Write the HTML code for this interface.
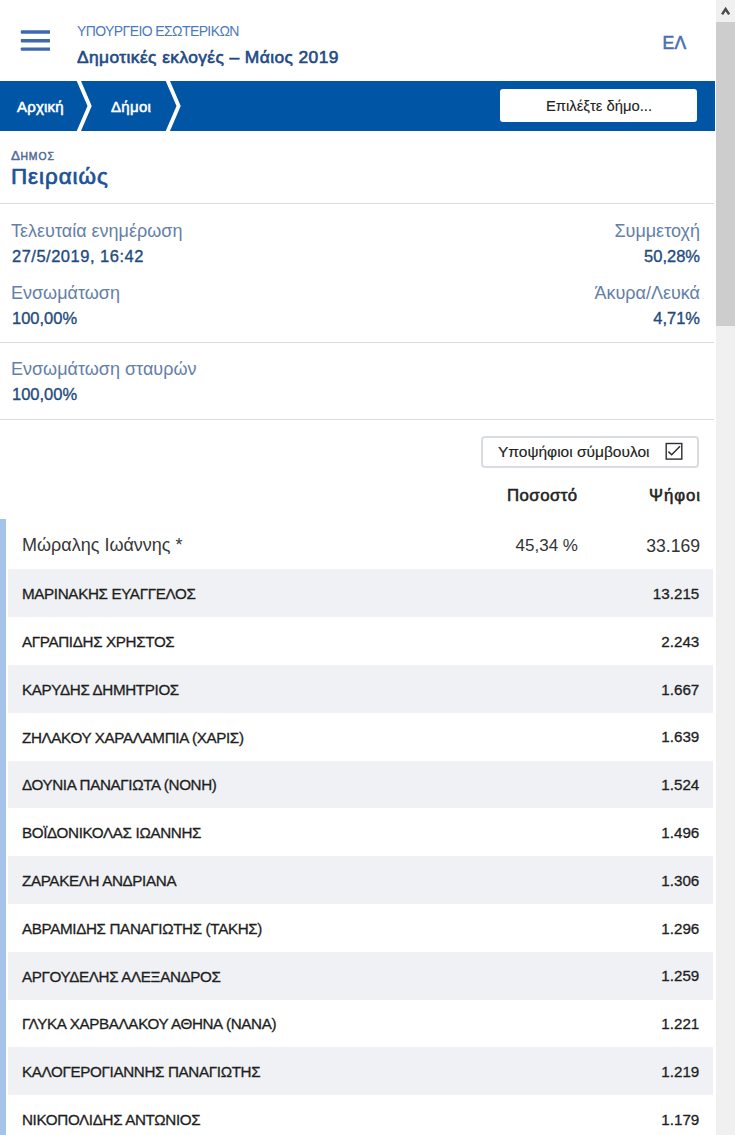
<!DOCTYPE html>
<html><head><meta charset="utf-8">
<style>
*{margin:0;padding:0;box-sizing:border-box}
html,body{width:735px;height:1135px;overflow:hidden;background:#fff}
body{font-family:"Liberation Sans",sans-serif;position:relative}
.a{position:absolute;white-space:nowrap}
#sb{position:absolute;left:716px;top:0;width:19px;height:1135px;background:#f0f0f0}
#sbup{position:absolute;left:0;top:0;width:19px;height:22px;background:#f0f0f0}
#thumb{position:absolute;left:0;top:22px;width:19px;height:304px;background:#cdcdcd}
.ham{position:absolute;left:21px;width:30px;height:3px;background:#4169ae}
#bc{position:absolute;left:0;top:81px;width:715px;height:50px;background:#0055a4}
.hr{position:absolute;left:0;width:714px;height:1px;background:#dcdcdc}
.lbl{color:#6480a8;font-size:18px}
.val{color:#1f4c7e;font-size:16.5px;-webkit-text-stroke:0.35px #1f4c7e}
.row{position:absolute;left:8px;width:705.3px;height:47.8px}
.g{background:#eff1f4}
.nm{position:absolute;left:14px;top:15.8px;font-size:15.2px;letter-spacing:-0.35px;color:#1e1e1e;white-space:nowrap;-webkit-text-stroke:0.3px #1e1e1e}
.vt{position:absolute;right:14px;top:15.5px;font-size:15.2px;color:#1e1e1e;white-space:nowrap;-webkit-text-stroke:0.3px #1e1e1e}
</style></head><body>
<div id="sb"><div id="sbup"><svg width="19" height="22" style="position:absolute;left:0;top:0"><path d="M6.1 14.4 L9.6 9.1 L13.1 14.4" fill="none" stroke="#4a4a4a" stroke-width="2.5"/></svg></div><div id="thumb"></div></div>

<svg width="40" height="40" style="position:absolute;left:10px;top:20px"><g fill="#3f68ad"><rect x="10.8" y="10.2" width="30.8" height="3.6" rx="0.8"/><rect x="10.8" y="19" width="30.8" height="3.4" rx="0.8"/><rect x="10.8" y="27.4" width="30.8" height="3.4" rx="0.8"/></g></svg>
<div class="a" style="left:77px;top:22.5px;font-size:14px;letter-spacing:-0.6px;color:#4a7abd">ΥΠΟΥΡΓΕΙΟ ΕΣΩΤΕΡΙΚΩΝ</div>
<div class="a" style="left:77px;top:47px;font-size:17.4px;color:#1f4a86;-webkit-text-stroke:0.6px #1f4a86;letter-spacing:0.4px">Δημοτικές εκλογές – Μάιος 2019</div>
<div class="a" style="left:662.5px;top:32.6px;font-size:17.6px;color:#4a6eb0;-webkit-text-stroke:0.55px #4a6eb0;letter-spacing:0.3px">ΕΛ</div>

<div id="bc">
<svg width="715" height="50" style="position:absolute;left:0;top:0">
<path d="M78 -2 L89.6 25 L78 52" fill="none" stroke="#fff" stroke-width="3.9"/>
<path d="M167 -2 L178.6 25 L167 52" fill="none" stroke="#fff" stroke-width="3.9"/>
</svg>
<div class="a" style="left:17px;top:16.5px;font-size:15px;color:#fff;-webkit-text-stroke:0.55px #fff;letter-spacing:0.2px">Αρχική</div>
<div class="a" style="left:111px;top:16.5px;font-size:15px;color:#fff;-webkit-text-stroke:0.55px #fff;letter-spacing:0.3px">Δήμοι</div>
<div style="position:absolute;left:500px;top:8px;width:197px;height:33px;background:#fff;border-radius:3px"></div>
<div class="a" style="left:546px;top:17px;font-size:14.8px;color:#222;-webkit-text-stroke:0.1px #222">Επιλέξτε δήμο...</div>
</div>

<div class="a" style="left:11px;top:148px;font-size:13.4px;color:#4f6a98;-webkit-text-stroke:0.45px #4f6a98;letter-spacing:0.5px">Δ<span style="font-size:10.4px;letter-spacing:0.9px">ΗΜΟΣ</span></div>
<div class="a" style="left:11px;top:164.3px;font-size:22.4px;letter-spacing:0.95px;color:#1c5296;-webkit-text-stroke:0.7px #1c5296">Πειραιώς</div>
<div class="hr" style="top:203px"></div>

<div class="a lbl" style="left:11px;top:221px">Τελευταία ενημέρωση</div>
<div class="a val" style="left:12px;top:247px;letter-spacing:0.5px">27/5/2019, 16:42</div>
<div class="a lbl" style="left:11px;top:283px">Ενσωμάτωση</div>
<div class="a val" style="left:12px;top:309px">100,00%</div>
<div class="a lbl" style="right:35px;top:221px">Συμμετοχή</div>
<div class="a val" style="right:35px;top:247px">50,28%</div>
<div class="a lbl" style="right:35px;top:283px">Άκυρα/Λευκά</div>
<div class="a val" style="right:35px;top:309px">4,71%</div>
<div class="hr" style="top:342px"></div>
<div class="a lbl" style="left:11px;top:359px">Ενσωμάτωση σταυρών</div>
<div class="a val" style="left:12px;top:385px">100,00%</div>
<div class="hr" style="top:419px"></div>

<div style="position:absolute;left:481px;top:436px;width:218px;height:32px;border:2px solid #d9dde2;border-radius:4px"></div>
<div class="a" style="left:498px;top:443px;font-size:15.5px;color:#222;-webkit-text-stroke:0.15px #222">Υποψήφιοι σύμβουλοι</div>
<svg width="20" height="20" style="position:absolute;left:665px;top:442px"><rect x="1.2" y="1.5" width="15.6" height="15.6" fill="none" stroke="#2e2e2e" stroke-width="1.4"/><path d="M3.4 9.6 L6.7 12.8 L15 4.2" fill="none" stroke="#2e2e2e" stroke-width="1.5"/></svg>

<div class="a" style="left:507px;top:486px;font-size:16.8px;color:#222;-webkit-text-stroke:0.55px #222;letter-spacing:0.45px">Ποσοστό</div>
<div class="a" style="right:35px;top:486px;font-size:16.8px;color:#222;-webkit-text-stroke:0.55px #222;letter-spacing:0.9px;margin-right:-0.9px">Ψήφοι</div>

<div style="position:absolute;left:0;top:519px;width:6px;height:616px;background:#a6c3ea"></div>
<div class="a" style="left:22px;top:535.3px;font-size:18px;color:#383838">Μώραλης Ιωάννης *</div>
<div class="a" style="right:157px;top:536px;font-size:17px;color:#333">45,34 %</div>
<div class="a" style="right:35px;top:535.5px;font-size:17.6px;color:#333">33.169</div>

<div class="row g" style="top:569.4px"><span class="nm">ΜΑΡΙΝΑΚΗΣ ΕΥΑΓΓΕΛΟΣ</span><span class="vt">13.215</span></div>
<div class="row" style="top:617.2px"><span class="nm">ΑΓΡΑΠΙΔΗΣ ΧΡΗΣΤΟΣ</span><span class="vt">2.243</span></div>
<div class="row g" style="top:665.0px"><span class="nm">ΚΑΡΥΔΗΣ ΔΗΜΗΤΡΙΟΣ</span><span class="vt">1.667</span></div>
<div class="row" style="top:712.8px"><span class="nm">ΖΗΛΑΚΟΥ ΧΑΡΑΛΑΜΠΙΑ (ΧΑΡΙΣ)</span><span class="vt">1.639</span></div>
<div class="row g" style="top:760.6px"><span class="nm">ΔΟΥΝΙΑ ΠΑΝΑΓΙΩΤΑ (ΝΟΝΗ)</span><span class="vt">1.524</span></div>
<div class="row" style="top:808.4px"><span class="nm">ΒΟΪΔΟΝΙΚΟΛΑΣ ΙΩΑΝΝΗΣ</span><span class="vt">1.496</span></div>
<div class="row g" style="top:856.2px"><span class="nm">ΖΑΡΑΚΕΛΗ ΑΝΔΡΙΑΝΑ</span><span class="vt">1.306</span></div>
<div class="row" style="top:904.0px"><span class="nm">ΑΒΡΑΜΙΔΗΣ ΠΑΝΑΓΙΩΤΗΣ (ΤΑΚΗΣ)</span><span class="vt">1.296</span></div>
<div class="row g" style="top:951.8px"><span class="nm">ΑΡΓΟΥΔΕΛΗΣ ΑΛΕΞΑΝΔΡΟΣ</span><span class="vt">1.259</span></div>
<div class="row" style="top:999.6px"><span class="nm">ΓΛΥΚΑ ΧΑΡΒΑΛΑΚΟΥ ΑΘΗΝΑ (ΝΑΝΑ)</span><span class="vt">1.221</span></div>
<div class="row g" style="top:1047.4px"><span class="nm">ΚΑΛΟΓΕΡΟΓΙΑΝΝΗΣ ΠΑΝΑΓΙΩΤΗΣ</span><span class="vt">1.219</span></div>
<div class="row" style="top:1095.2px"><span class="nm">ΝΙΚΟΠΟΛΙΔΗΣ ΑΝΤΩΝΙΟΣ</span><span class="vt">1.179</span></div>
</body></html>
